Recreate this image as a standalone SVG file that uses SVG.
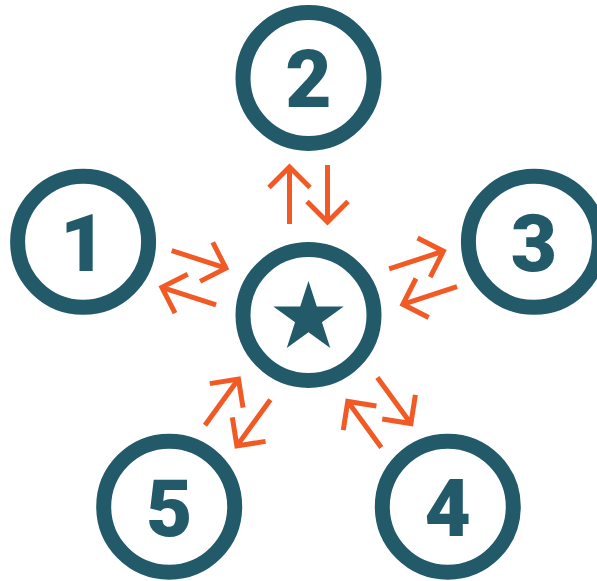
<svg xmlns="http://www.w3.org/2000/svg" width="597" height="581" viewBox="0 0 597 581">
<style>
.ring{fill:none;stroke:#225a69;stroke-width:15}
.num{font-family:Roboto,"Liberation Sans",sans-serif;font-weight:900;font-size:80px;fill:#225a69;text-anchor:middle}
.arr{fill:none;stroke:#f15a24;stroke-width:5;stroke-linejoin:miter}
</style>
<rect width="597" height="581" fill="#ffffff"/>
<defs>
<g id="pair">
<path class="arr" d="M289.5,224 V167 M269,187.5 L289.5,167 L310,187.5"/>
<path class="arr" d="M327.5,165 V222 M307,201.5 L327.5,222 L348,201.5"/>
</g>
</defs>
<g id="connectors">
<use href="#pair"/>
<use href="#pair" transform="rotate(72 308.5 315)"/>
<use href="#pair" transform="rotate(144 308.5 315)"/>
<use href="#pair" transform="rotate(216 308.5 315)"/>
<use href="#pair" transform="rotate(288 308.5 315)"/>
</g>
<g id="center">
<circle class="ring" cx="308.5" cy="315" r="65.5"/>
<polygon fill="#225a69" points="308.5,281 316.81,306.57 343.69,306.57 321.94,322.37 330.25,347.93 308.5,332.13 286.75,347.93 295.06,322.37 273.31,306.57 300.19,306.57"/>
</g>
<g id="node2">
<circle class="ring" cx="308.5" cy="78" r="65.5"/>
<text class="num" x="308.5" y="107">2</text>
</g>
<g id="node3">
<circle class="ring" cx="533.9" cy="241.8" r="65.5"/>
<text class="num" x="533.9" y="270.8">3</text>
</g>
<g id="node4">
<circle class="ring" cx="447.8" cy="506.7" r="65.5"/>
<text class="num" x="447.8" y="535.7">4</text>
</g>
<g id="node5">
<circle class="ring" cx="169.2" cy="506.7" r="65.5"/>
<text class="num" x="169.2" y="535.7">5</text>
</g>
<g id="node1">
<circle class="ring" cx="83.1" cy="241.8" r="65.5"/>
<text class="num" x="83.1" y="270.8">1</text>
</g>
</svg>
